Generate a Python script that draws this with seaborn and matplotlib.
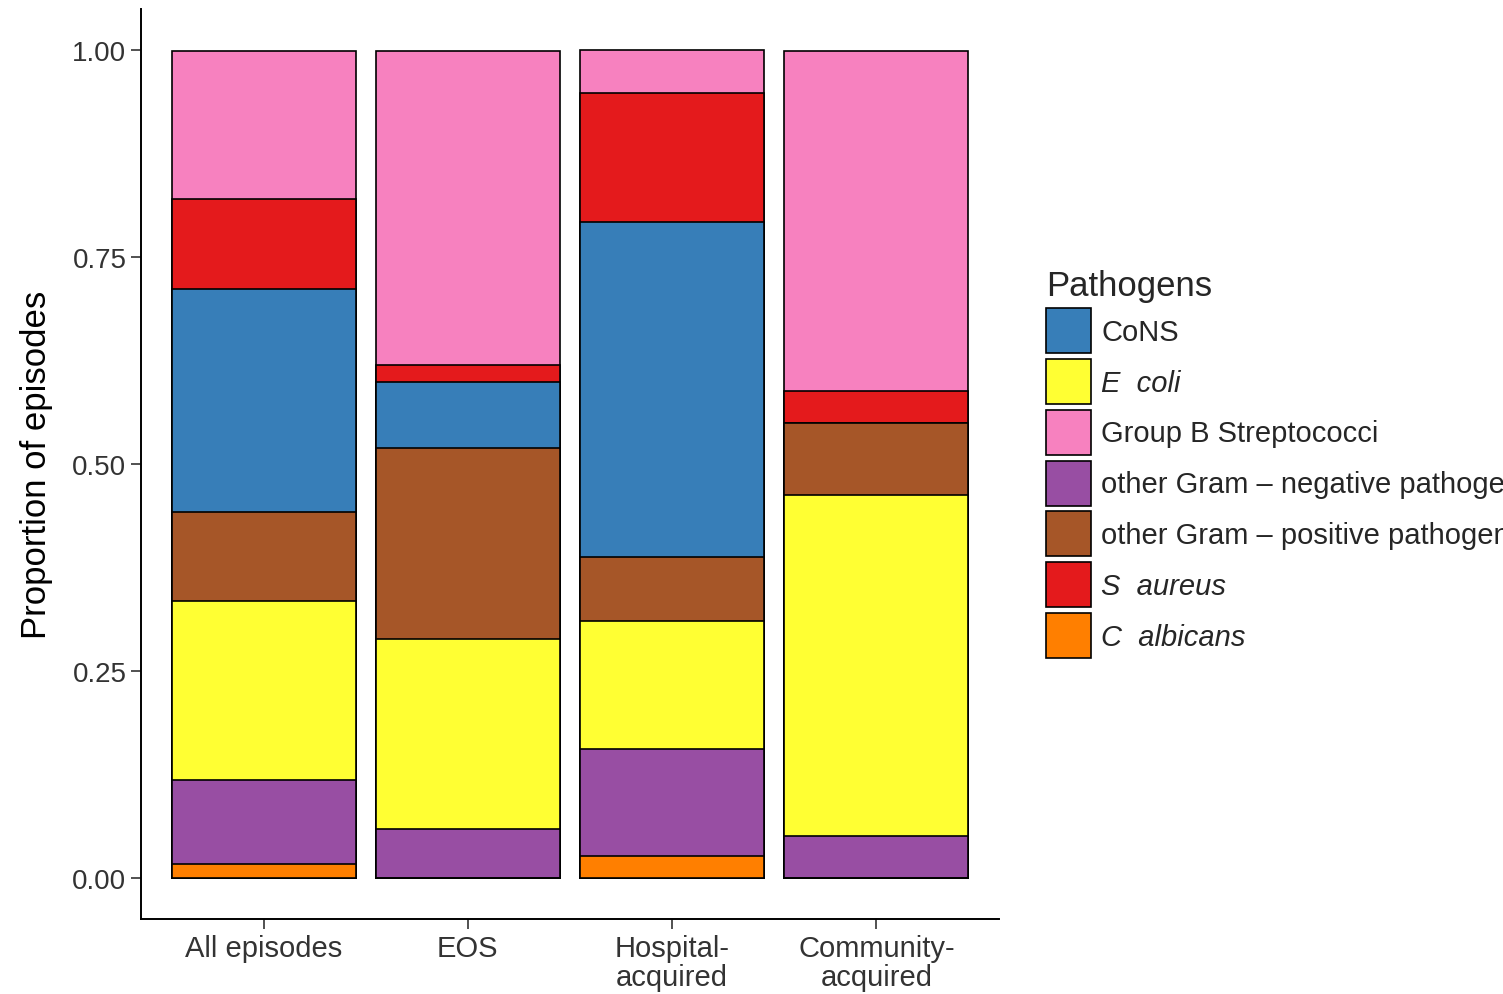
import numpy as np
import pandas as pd
import matplotlib
matplotlib.use("Agg")
import matplotlib.pyplot as plt
import seaborn as sns
from matplotlib.patches import Patch

# ---- data ----
categories = ["All episodes", "EOS", "Hospital-\nacquired", "Community-\nacquired"]
# segment proportions, stacked bottom -> top
c_albicans = [0.016, 0.000, 0.026, 0.000]
gram_neg   = [0.1015, 0.059, 0.129, 0.050]
e_coli     = [0.2165, 0.230, 0.155, 0.412]
gram_pos   = [0.1077, 0.230, 0.077, 0.088]
cons       = [0.270, 0.080, 0.405, 0.000]
s_aureus   = [0.109, 0.021, 0.157, 0.038]
gbs        = [0.179, 0.379, 0.051, 0.4115]

stack_names = ["C  albicans", "other Gram \u2013 negative pathogens", "E  coli",
               "other Gram \u2013 positive pathogens", "CoNS", "S  aureus",
               "Group B Streptococci"]
stack_values = [c_albicans, gram_neg, e_coli, gram_pos, cons, s_aureus, gbs]
legend_order = ["CoNS", "E  coli", "Group B Streptococci",
                "other Gram \u2013 negative pathogens",
                "other Gram \u2013 positive pathogens", "S  aureus", "C  albicans"]
italic_labels = {"E  coli", "S  aureus", "C  albicans"}
colors = {
    "CoNS": "#377EB8",
    "E  coli": "#FFFF33",
    "Group B Streptococci": "#F781BF",
    "other Gram \u2013 negative pathogens": "#984EA3",
    "other Gram \u2013 positive pathogens": "#A65628",
    "S  aureus": "#E41A1C",
    "C  albicans": "#FF7F00",
}

sns.set_style("ticks")
plt.rcParams["font.family"] = ["Liberation Sans", "DejaVu Sans"]

df = pd.DataFrame({name: vals for name, vals in zip(stack_names, stack_values)},
                  index=categories)
cum = df.cumsum(axis=1)

fig = plt.figure(figsize=(15.03, 9.95), dpi=100)
ax = fig.add_axes([141 / 1503, 75 / 995, 858 / 1503, 910 / 995])

# draw cumulative bars from the tallest down so each segment is visible
for name in reversed(stack_names):
    sns.barplot(x=list(cum.index), y=cum[name].values, order=categories,
                color=colors[name], saturation=1, edgecolor="black",
                linewidth=1.2, width=0.9, ax=ax)

ax.set_xlim(-0.6, 3.6)
ax.set_ylim(-0.05, 1.05)
ax.set_yticks([0, 0.25, 0.5, 0.75, 1.0])
ax.set_yticklabels(["0.00", "0.25", "0.50", "0.75", "1.00"])
ax.set_xlabel("")
ax.set_ylabel("Proportion of episodes", fontsize=25, color="black", labelpad=14)
ax.tick_params(axis="y", labelsize=20, colors="#333333", length=7, width=1.2)
ax.tick_params(axis="x", labelsize=21, colors="#333333", length=7, width=1.2, pad=4)
for lbl in ax.get_xticklabels():
    lbl.set_linespacing(1.05)
for s in ["top", "right"]:
    ax.spines[s].set_visible(False)
for s in ["left", "bottom"]:
    ax.spines[s].set_linewidth(1.4)
    ax.spines[s].set_color("black")

handles = [Patch(facecolor=colors[n], edgecolor="black", linewidth=1.2) for n in legend_order]
leg = fig.legend(handles, legend_order, loc="upper left",
                 bbox_to_anchor=(1046 / 1503, 1 - 270 / 995),
                 frameon=False, fontsize=21, title="Pathogens", title_fontsize=25,
                 handlelength=1.55, handleheight=2.0, labelspacing=0.2,
                 handletextpad=0.35, borderpad=0, borderaxespad=0,
                 alignment="left")
for t in leg.get_texts():
    if t.get_text() in italic_labels:
        t.set_fontstyle("italic")

fig.savefig("out.png", dpi=100)
